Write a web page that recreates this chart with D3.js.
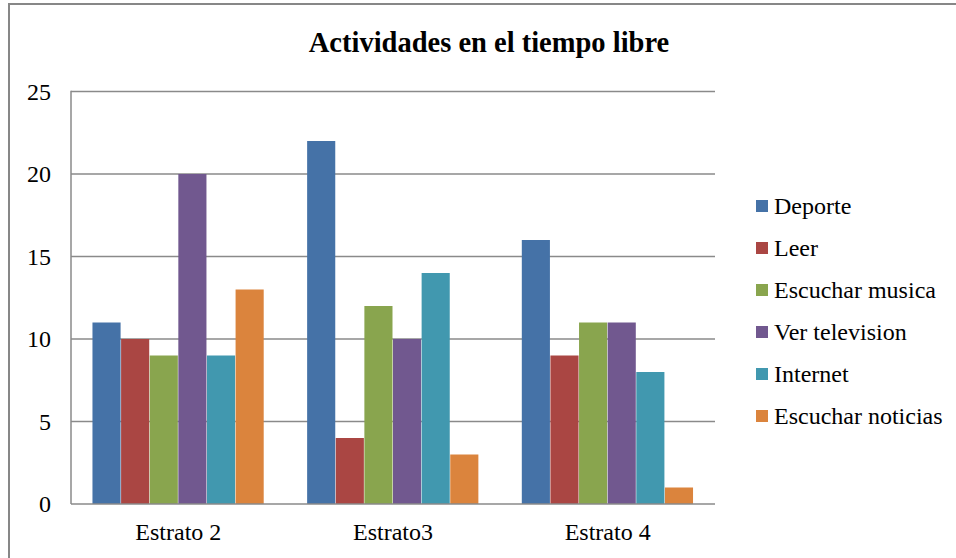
<!DOCTYPE html>
<html><head><meta charset="utf-8">
<script src="https://cdn.jsdelivr.net/npm/d3@7"></script>
<style>body{margin:0;background:#fff}svg{display:block}
svg text{font-family:"Liberation Serif","Times New Roman","DejaVu Serif",serif}</style>
</head><body>
<svg id="c" width="956" height="558"></svg>
<script>
const categories = ["Estrato 2", "Estrato3", "Estrato 4"];
const seriesNames = ["Deporte", "Leer", "Escuchar musica", "Ver television", "Internet", "Escuchar noticias"];
const deporte = [11, 22, 16];
const leer = [10, 4, 9];
const musica = [9, 12, 11];
const television = [20, 10, 11];
const internet = [9, 14, 8];
const noticias = [13, 3, 1];
const yTicks = [0, 5, 10, 15, 20, 25];
const colors = ["#4572A7", "#AA4643", "#89A54E", "#71588F", "#4198AF", "#DB843D"];
const title = "Actividades en el tiempo libre";

const seriesValues = [deporte, leer, musica, television, internet, noticias];
const svg = d3.select("#c");
const L = 71, R = 715, T = 91.5, B = 504;

// outer border
svg.append("rect").attr("x", 9).attr("y", 4).attr("width", 960).attr("height", 570)
  .attr("fill", "#fff").attr("stroke", "#878787").attr("stroke-width", 2);

svg.append("text").attr("x", 489).attr("y", 52).attr("text-anchor", "middle")
  .attr("font-weight", "bold").attr("font-size", 28.5).attr("fill", "#000")
  .text(title);

const y = d3.scaleLinear().domain([0, 25]).range([B, T]);
const x0 = d3.scaleBand().domain(categories).range([L, R]).padding(0);
const barW = x0.bandwidth() / (seriesNames.length + 1.5);
const x1 = d3.scaleBand().domain(seriesNames)
  .range([0, barW * seriesNames.length]).padding(0);
const groupOffset = (x0.bandwidth() - barW * seriesNames.length) / 2;

// gridlines
svg.append("g").selectAll("line").data(yTicks.filter(d => d > 0)).join("line")
  .attr("x1", L).attr("x2", R).attr("y1", d => y(d)).attr("y2", d => y(d))
  .attr("stroke", "#8a8a8a").attr("stroke-width", 1.5);

// bars
const g = svg.append("g");
seriesNames.forEach((s, si) => {
  g.append("g").selectAll("rect").data(categories).join("rect")
    .attr("x", (c) => x0(c) + groupOffset + x1(s))
    .attr("width", x1.bandwidth() - 0.5)
    .attr("y", (c, i) => y(seriesValues[si][i]))
    .attr("height", (c, i) => y(0) - y(seriesValues[si][i]))
    .attr("fill", colors[si]);
});

// axes lines
svg.append("line").attr("x1", L).attr("x2", L).attr("y1", T - 0.75).attr("y2", B)
  .attr("stroke", "#8a8a8a").attr("stroke-width", 1.5);
svg.append("line").attr("x1", L).attr("x2", R).attr("y1", B).attr("y2", B)
  .attr("stroke", "#8a8a8a").attr("stroke-width", 1.5);

// y tick labels
svg.append("g").selectAll("text").data(yTicks).join("text")
  .attr("x", 51).attr("y", d => y(d)).attr("dy", "0.35em").attr("text-anchor", "end")
  .attr("font-size", 24).attr("fill", "#000")
  .text(d => d);

// x labels
svg.append("g").selectAll("text").data(categories).join("text")
  .attr("x", d => x0(d) + x0.bandwidth() / 2).attr("y", 540).attr("text-anchor", "middle")
  .attr("font-size", 24).attr("fill", "#000")
  .text(d => d);

// legend
const leg = svg.append("g").selectAll("g").data(seriesNames).join("g")
  .attr("transform", (d, i) => `translate(756,${206 + i * 42})`);
leg.append("rect").attr("x", 0).attr("y", -6).attr("width", 12).attr("height", 12)
  .attr("fill", (d, i) => colors[i]);
leg.append("text").attr("x", 18).attr("y", 0).attr("dy", "0.35em")
  .attr("font-size", 24).attr("fill", "#000")
  .text(d => d);
</script>
</body></html>
